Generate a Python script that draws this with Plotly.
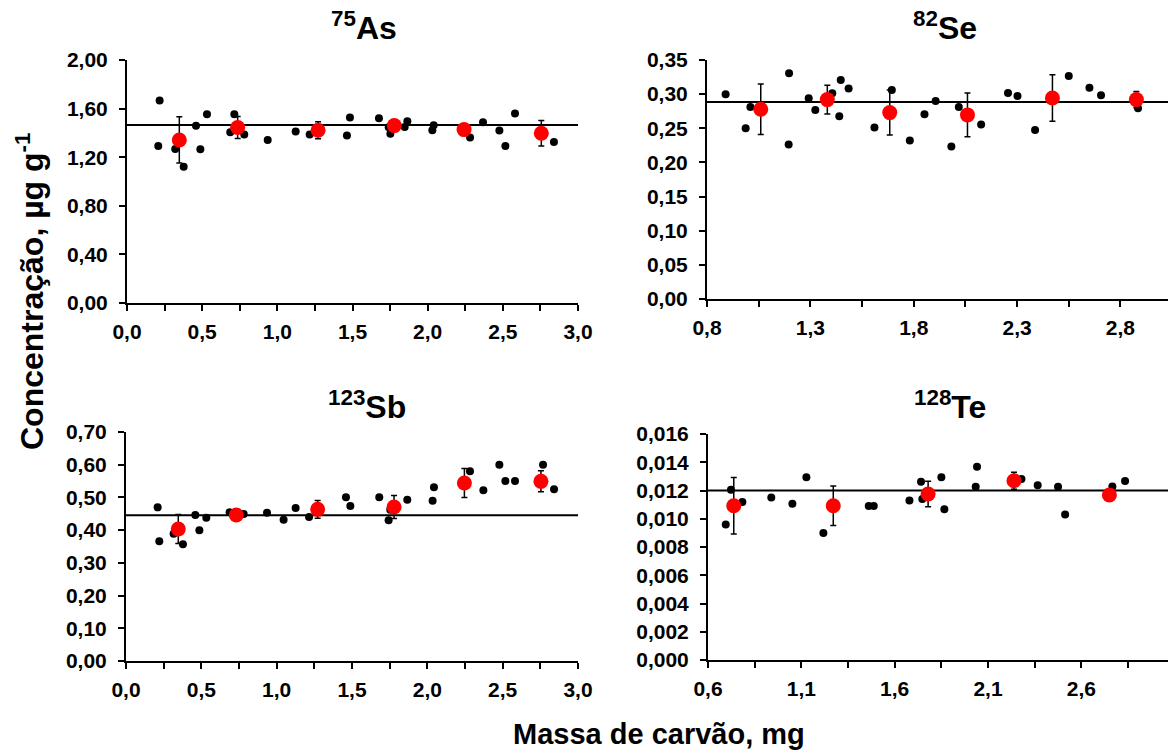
import plotly.graph_objects as go

W, H = 1168, 755
FONT = "Liberation Sans, Arial, sans-serif"

# ---------------- data ----------------
# 75As
as_x = [0.217, 0.208, 0.321, 0.377, 0.459, 0.488, 0.532, 0.687, 0.714, 0.780, 0.936, 1.122, 1.215,
        1.463, 1.483, 1.676, 1.741, 1.752, 1.847, 1.865, 2.031, 2.040, 2.282, 2.368, 2.477, 2.517,
        2.581, 2.840]
as_y = [1.666, 1.293, 1.268, 1.121, 1.458, 1.266, 1.553, 1.405, 1.553, 1.386, 1.342, 1.411, 1.386,
        1.378, 1.526, 1.521, 1.447, 1.392, 1.449, 1.496, 1.422, 1.463, 1.362, 1.488, 1.419, 1.293,
        1.559, 1.326]
as_mx = [0.348, 0.736, 1.271, 1.778, 2.242, 2.756]
as_my = [1.342, 1.444, 1.422, 1.460, 1.427, 1.397]
as_err = [0.19, 0.09, 0.07, 0.04, 0.04, 0.105]
as_ref = 1.466

# 82Se
se_x = [0.890, 0.987, 1.010, 1.197, 1.195, 1.292, 1.324, 1.406, 1.440, 1.447, 1.485, 1.610, 1.694,
        1.781, 1.852, 1.906, 1.982, 2.018, 2.126, 2.256, 2.302, 2.387, 2.550, 2.650, 2.706, 2.885]
se_y = [0.2998, 0.2501, 0.2813, 0.3305, 0.2262, 0.2939, 0.2769, 0.3013, 0.2676, 0.3208, 0.3081,
        0.2510, 0.3061, 0.2320, 0.2705, 0.2900, 0.2233, 0.2813, 0.2554, 0.3017, 0.2974, 0.2476,
        0.3266, 0.3095, 0.2983, 0.2793]
se_mx = [1.060, 1.382, 1.684, 2.060, 2.471, 2.877]
se_my = [0.2779, 0.2920, 0.2730, 0.2696, 0.2944, 0.2920]
se_err = [0.037, 0.021, 0.033, 0.032, 0.034, 0.012]
se_ref = 0.2886

# 123Sb
sb_x = [0.210, 0.221, 0.316, 0.378, 0.460, 0.487, 0.533, 0.688, 0.781, 0.936, 1.046, 1.126, 1.215,
        1.460, 1.489, 1.681, 1.743, 1.754, 1.867, 2.035, 2.044, 2.283, 2.372, 2.478, 2.518, 2.582,
        2.768, 2.841]
sb_y = [0.4697, 0.3658, 0.3892, 0.3566, 0.4463, 0.3994, 0.4381, 0.4545, 0.4494, 0.4534, 0.4320,
        0.4677, 0.4402, 0.5003, 0.4738, 0.5003, 0.4300, 0.4626, 0.4932, 0.4901, 0.5309, 0.5798,
        0.5217, 0.6002, 0.5502, 0.5502, 0.6002, 0.5248]
sb_mx = [0.347, 0.732, 1.272, 1.779, 2.246, 2.754]
sb_my = [0.4035, 0.4463, 0.4636, 0.4708, 0.5441, 0.5492]
sb_err = [0.044, 0.008, 0.027, 0.035, 0.044, 0.032]
sb_ref = 0.4453

# 128Te
te_x = [0.695, 0.723, 0.784, 0.939, 1.052, 1.127, 1.218, 1.461, 1.488, 1.679, 1.741, 1.748, 1.850,
        1.866, 2.034, 2.041, 2.279, 2.366, 2.475, 2.513, 2.766, 2.834]
te_y = [0.009595, 0.01205, 0.01118, 0.01151, 0.01106, 0.01293, 0.00900, 0.01090, 0.01090, 0.01130,
        0.01262, 0.01139, 0.01293, 0.01068, 0.01227, 0.01368, 0.01281, 0.01238, 0.01227, 0.01030,
        0.01229, 0.01267]
te_mx = [0.738, 1.271, 1.779, 2.239, 2.750]
te_my = [0.01092, 0.01092, 0.01175, 0.01269, 0.01168]
te_err = [0.0020, 0.0014, 0.0009, 0.0006, 0.0004]
te_ref = 0.0120

titles = ["<sup>75</sup>As", "<sup>82</sup>Se", "<sup>123</sup>Sb", "<sup>128</sup>Te"]
y_label = "Concentração, µg g<sup>-1</sup>"
x_label = "Massa de carvão, mg"

panels = [
    dict(x=as_x, y=as_y, mx=as_mx, my=as_my, err=as_err, ref=as_ref,
         xr=[0, 3.0], x0=0, yr=[0, 2.0], dy=0.4, yfmt=".2f",
         dom_x=[127, 578], dom_y=[60, 303], title_xy=(364, 26)),
    dict(x=se_x, y=se_y, mx=se_mx, my=se_my, err=se_err, ref=se_ref,
         xr=[0.8, 3.03], x0=0.8, yr=[0, 0.35], dy=0.05, yfmt=".2f",
         dom_x=[707, 1168], dom_y=[60, 299], title_xy=(945, 26)),
    dict(x=sb_x, y=sb_y, mx=sb_mx, my=sb_my, err=sb_err, ref=sb_ref,
         xr=[0, 3.0], x0=0, yr=[0, 0.70], dy=0.1, yfmt=".2f",
         dom_x=[126, 578], dom_y=[432, 661], title_xy=(367, 405)),
    dict(x=te_x, y=te_y, mx=te_mx, my=te_my, err=te_err, ref=te_ref,
         xr=[0.6, 3.064], x0=0.6, yr=[0, 0.016], dy=0.002, yfmt=".3f",
         dom_x=[708, 1168], dom_y=[434, 660], title_xy=(950, 405)),
]

fig = go.Figure()
layout = {}
annotations = []
for i, p in enumerate(panels):
    n = "" if i == 0 else str(i + 1)
    xa, ya = "x" + n, "y" + n
    # reference line
    fig.add_trace(go.Scatter(x=[p["xr"][0], p["xr"][1]], y=[p["ref"], p["ref"]], mode="lines",
                             line=dict(color="black", width=2), xaxis=xa, yaxis=ya,
                             showlegend=False, hoverinfo="skip", cliponaxis=False))
    fig.add_trace(go.Scatter(x=p["x"], y=p["y"], mode="markers",
                             marker=dict(color="black", size=8), xaxis=xa, yaxis=ya,
                             showlegend=False, cliponaxis=False))
    fig.add_trace(go.Scatter(x=p["mx"], y=p["my"], mode="markers",
                             marker=dict(color="#ff0000", size=15),
                             error_y=dict(type="data", array=p["err"], color="black",
                                          thickness=1.5, width=3),
                             xaxis=xa, yaxis=ya, showlegend=False, cliponaxis=False))
    axis_common = dict(showline=True, linecolor="black", linewidth=2, ticks="outside",
                       tickcolor="black", tickwidth=2, ticklen=6, showgrid=False, zeroline=False,
                       automargin=False,
                       tickfont=dict(family=FONT, size=21, color="black", weight="bold"))
    layout["xaxis" + n] = dict(axis_common, range=p["xr"], tick0=p["x0"], dtick=0.5,
                               tickformat=".1f", anchor=ya, ticklabelstandoff=3,
                               domain=[p["dom_x"][0] / W, p["dom_x"][1] / W],
                               minor=dict(ticks="outside", tick0=p["x0"], dtick=0.25, ticklen=6,
                                          tickwidth=2, tickcolor="black", showgrid=False))
    layout["yaxis" + n] = dict(axis_common, range=p["yr"], tick0=0, dtick=p["dy"],
                               tickformat=p["yfmt"], anchor=xa, ticklabelstandoff=7,
                               domain=[1 - p["dom_y"][1] / H, 1 - p["dom_y"][0] / H])
    tx, ty = p["title_xy"]
    annotations.append(dict(text=titles[i], x=tx / W, y=1 - ty / H, xref="paper", yref="paper",
                            showarrow=False, xanchor="center", yanchor="middle",
                            font=dict(family=FONT, size=32, color="black", weight="bold")))

annotations.append(dict(text=y_label, x=30 / W, y=1 - 291 / H, xref="paper", yref="paper",
                        showarrow=False, textangle=-90, xanchor="center", yanchor="middle",
                        font=dict(family=FONT, size=32, color="black", weight="bold")))
annotations.append(dict(text=x_label, x=659 / W, y=1 - 734 / H, xref="paper", yref="paper",
                        showarrow=False, xanchor="center", yanchor="middle",
                        font=dict(family=FONT, size=29, color="black", weight="bold")))

fig.update_layout(**layout)
fig.update_layout(width=W, height=H, margin=dict(l=0, r=0, t=0, b=0, autoexpand=False),
                  paper_bgcolor="white", plot_bgcolor="white", separators=",.",
                  annotations=annotations, font=dict(family=FONT))
fig.write_html("out.html", config={"displayModeBar": False},
               post_script="document.body.style.margin='0px';document.body.style.overflow='hidden';")
